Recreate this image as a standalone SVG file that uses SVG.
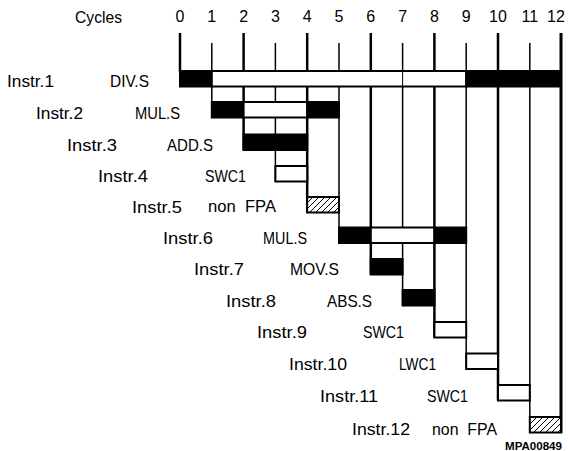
<svg xmlns="http://www.w3.org/2000/svg" width="568" height="451" viewBox="0 0 568 451">
<style>
text{font-family:"Liberation Sans",Arial,sans-serif;fill:#000}
.num{font-size:16px;text-anchor:middle}
.lbl{font-size:16.5px}
.code{font-size:10.5px;font-weight:bold}
.blk{fill:#000;stroke:#000;stroke-width:2}
.wht{fill:#fff;stroke:#000;stroke-width:2}
.hat{fill:url(#hatch);stroke:#000;stroke-width:2}
.thk{stroke:#000;stroke-width:2.5;fill:none}
.thn{stroke:#000;stroke-width:1.5;fill:none}
</style>
<defs>
<pattern id="hatch" patternUnits="userSpaceOnUse" width="6" height="6">
<rect width="6" height="6" fill="#fff"/>
<path d="M-1,1 l2,-2 M0,6 l6,-6 M5,7 l2,-2" stroke="#000" stroke-width="1"/>
</pattern>
</defs>
<g id="axis">
<text x="75" y="23" class="lbl" textLength="47" lengthAdjust="spacingAndGlyphs">Cycles</text>
<text x="180" y="22" class="num">0</text>
<text x="211.8" y="22" class="num">1</text>
<text x="243.6" y="22" class="num">2</text>
<text x="275.4" y="22" class="num">3</text>
<text x="307.2" y="22" class="num">4</text>
<text x="339" y="22" class="num">5</text>
<text x="370.8" y="22" class="num">6</text>
<text x="402.6" y="22" class="num">7</text>
<text x="434.4" y="22" class="num">8</text>
<text x="466.2" y="22" class="num">9</text>
<text x="498" y="22" class="num">10</text>
<text x="529.8" y="22" class="num">11</text>
<text x="556" y="22" class="num">12</text>
</g>
<g id="connectors">
<line class="thk" x1="180" y1="33" x2="180" y2="72"/>
<line class="thn" x1="211.8" y1="43" x2="211.8" y2="117.5"/>
<line class="thk" x1="243.6" y1="33" x2="243.6" y2="150"/>
<line class="thn" x1="275.4" y1="43" x2="275.4" y2="181.5"/>
<line class="thk" x1="307.2" y1="33" x2="307.2" y2="212.5"/>
<line class="thn" x1="339" y1="43" x2="339" y2="243"/>
<line class="thk" x1="370.8" y1="33" x2="370.8" y2="274.5"/>
<line class="thn" x1="402.6" y1="43" x2="402.6" y2="305.5"/>
<line class="thk" x1="434.4" y1="33" x2="434.4" y2="337.5"/>
<line class="thn" x1="466.2" y1="43" x2="466.2" y2="369"/>
<line class="thk" x1="498" y1="33" x2="498" y2="400.5"/>
<line class="thn" x1="529.8" y1="43" x2="529.8" y2="432.5"/>
<line stroke="#000" stroke-width="3" x1="561" y1="33" x2="561" y2="433"/>
</g>
<g id="instr1">
<text x="7" y="87" class="lbl" textLength="47" lengthAdjust="spacingAndGlyphs">Instr.1</text>
<text x="110" y="87" class="lbl" textLength="39" lengthAdjust="spacingAndGlyphs">DIV.S</text>
<rect class="blk" x="180" y="71" width="31.8" height="15.5"/>
<rect class="wht" x="211.8" y="71" width="254.4" height="15.5"/>
<line stroke="#000" stroke-width="1" x1="402.6" y1="71" x2="402.6" y2="86.5"/>
<rect class="blk" x="466.2" y="71" width="94.8" height="15.5"/>
</g>
<g id="instr2">
<text x="36" y="118.5" class="lbl" textLength="47" lengthAdjust="spacingAndGlyphs">Instr.2</text>
<text x="135" y="118.5" class="lbl" textLength="45" lengthAdjust="spacingAndGlyphs">MUL.S</text>
<rect class="blk" x="211.8" y="102" width="31.8" height="15.5"/>
<rect class="wht" x="243.6" y="102" width="63.6" height="15.5"/>
<rect class="blk" x="307.2" y="102" width="31.8" height="15.5"/>
</g>
<g id="instr3">
<text x="67" y="150.5" class="lbl" textLength="50" lengthAdjust="spacingAndGlyphs">Instr.3</text>
<text x="167" y="150.5" class="lbl" textLength="46" lengthAdjust="spacingAndGlyphs">ADD.S</text>
<rect class="blk" x="243.6" y="134.5" width="63.6" height="15.5"/>
</g>
<g id="instr4">
<text x="98" y="181.5" class="lbl" textLength="50" lengthAdjust="spacingAndGlyphs">Instr.4</text>
<text x="205" y="181.5" class="lbl" textLength="41" lengthAdjust="spacingAndGlyphs">SWC1</text>
<rect class="wht" x="275.4" y="166" width="31.8" height="15.5"/>
</g>
<g id="instr5">
<text x="132" y="212.5" class="lbl" textLength="50" lengthAdjust="spacingAndGlyphs">Instr.5</text>
<text x="208" y="212" class="lbl" textLength="68" lengthAdjust="spacingAndGlyphs">non&#160;&#160;FPA</text>
<rect class="hat" x="307.2" y="197" width="31.8" height="15.5"/>
</g>
<g id="instr6">
<text x="163" y="243.5" class="lbl" textLength="50" lengthAdjust="spacingAndGlyphs">Instr.6</text>
<text x="263" y="243.5" class="lbl" textLength="44" lengthAdjust="spacingAndGlyphs">MUL.S</text>
<rect class="blk" x="339" y="227.5" width="31.8" height="15.5"/>
<rect class="wht" x="370.8" y="227.5" width="63.6" height="15.5"/>
<rect class="blk" x="434.4" y="227.5" width="31.8" height="15.5"/>
</g>
<g id="instr7">
<text x="194" y="275" class="lbl" textLength="50" lengthAdjust="spacingAndGlyphs">Instr.7</text>
<text x="290" y="275" class="lbl" textLength="49" lengthAdjust="spacingAndGlyphs">MOV.S</text>
<rect class="blk" x="370.8" y="259" width="31.8" height="15.5"/>
</g>
<g id="instr8">
<text x="226" y="306.5" class="lbl" textLength="50" lengthAdjust="spacingAndGlyphs">Instr.8</text>
<text x="327" y="306.5" class="lbl" textLength="45" lengthAdjust="spacingAndGlyphs">ABS.S</text>
<rect class="blk" x="402.6" y="290" width="31.8" height="15.5"/>
</g>
<g id="instr9">
<text x="257" y="337.5" class="lbl" textLength="50" lengthAdjust="spacingAndGlyphs">Instr.9</text>
<text x="363" y="337.5" class="lbl" textLength="41" lengthAdjust="spacingAndGlyphs">SWC1</text>
<rect class="wht" x="434.4" y="322" width="31.8" height="15.5"/>
</g>
<g id="instr10">
<text x="289" y="370" class="lbl" textLength="58" lengthAdjust="spacingAndGlyphs">Instr.10</text>
<text x="399" y="370" class="lbl" textLength="37" lengthAdjust="spacingAndGlyphs">LWC1</text>
<rect class="wht" x="466.2" y="353.5" width="31.8" height="15.5"/>
</g>
<g id="instr11">
<text x="320" y="402" class="lbl" textLength="58" lengthAdjust="spacingAndGlyphs">Instr.11</text>
<text x="427" y="402" class="lbl" textLength="41" lengthAdjust="spacingAndGlyphs">SWC1</text>
<rect class="wht" x="498" y="385" width="31.8" height="15.5"/>
</g>
<g id="instr12">
<text x="352" y="434.5" class="lbl" textLength="58" lengthAdjust="spacingAndGlyphs">Instr.12</text>
<text x="432" y="434.5" class="lbl" textLength="65" lengthAdjust="spacingAndGlyphs">non&#160;&#160;FPA</text>
<rect class="hat" x="529.8" y="417" width="31.2" height="15.5"/>
</g>
<text x="505" y="449.5" class="code" textLength="57" lengthAdjust="spacingAndGlyphs">MPA00849</text>
</svg>
